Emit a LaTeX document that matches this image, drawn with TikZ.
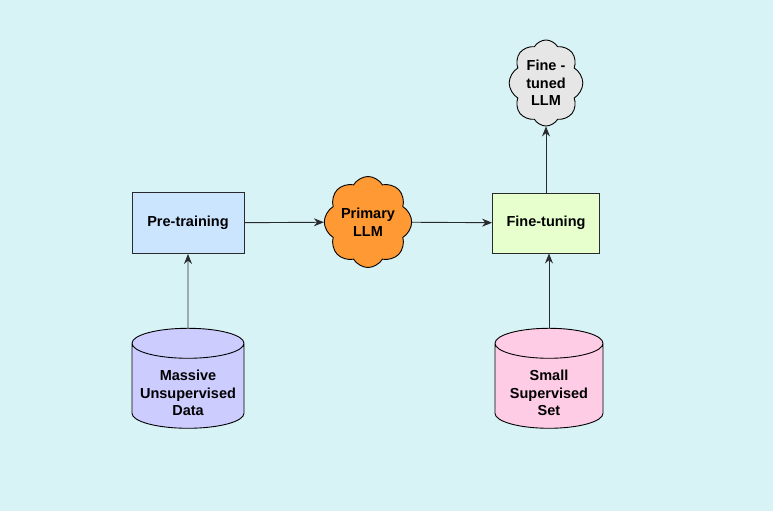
\documentclass[tikz,border=0pt]{standalone}
\usepackage{fontspec}
\setmainfont{Liberation Sans}
\usetikzlibrary{shapes.geometric,shapes.symbols,arrows.meta}
\definecolor{bgcyan}{RGB}{215,243,245}
\definecolor{pretrainblue}{RGB}{204,229,255}
\definecolor{tuninggreen}{RGB}{230,255,204}
\definecolor{llmorange}{RGB}{255,153,51}
\definecolor{tunedgray}{RGB}{230,230,230}
\definecolor{massivelilac}{RGB}{204,204,255}
\definecolor{smallpink}{RGB}{255,204,230}
\definecolor{edgegray}{RGB}{40,42,45}

\begin{document}
\begin{tikzpicture}[x=1pt, y=-1pt,
		labeltext/.style={font=\bfseries\fontsize{14.5}{17.5}\selectfont, align=center},
		stagebox/.style={labeltext, draw=edgegray, line width=0.9pt, minimum width=112pt, minimum height=61pt},
		llmcloud/.style={labeltext, draw=black, line width=0.9pt, cloud, cloud puffs=8, cloud puff arc=120, inner sep=0pt},
		datacyl/.style={text width=100pt, draw=black, line width=0.9pt, cylinder, shape border rotate=90, shape aspect=0.3, inner sep=0pt, minimum width=112pt, minimum height=100pt},
		cyltext/.style={label={[labeltext, yshift=-7pt]center:#1}},
		flow/.style={draw=edgegray, line width=0.9pt, -{Stealth[length=10pt, width=8pt]}}]
		%%%%% START %%%%%
		\fill[bgcyan] (0, 0) rectangle (773, 511);
		\useasboundingbox (0, 0) rectangle (773, 511);
		
		\node[stagebox, fill=pretrainblue] (pretrain) at (188, 223) {Pre-training};
		\node[stagebox, fill=tuninggreen, minimum width=107pt, minimum height=60pt] (finetune) at (546, 223) {Fine-tuning};
		
		\node[llmcloud, fill=llmorange, minimum width=80pt, minimum height=91pt] (primary) at (368, 222) {Primary\\LLM};
		\node[llmcloud, fill=tunedgray, minimum width=68pt, minimum height=86pt] (tuned) at (546, 83) {Fine -\\tuned\\LLM};
		
		\node[datacyl, fill=massivelilac, cyltext={Massive\\Unsupervised\\Data}] (massive) at (188, 386) {};
		\node[datacyl, fill=smallpink, minimum width=108pt, cyltext={Small\\Supervised\\Set}] (smallset) at (549, 386) {};
		
		\draw[flow] (massive) -- (pretrain);
		\draw[flow] (pretrain) -- (primary);
		\draw[flow] (primary) -- (finetune);
		\draw[flow] (smallset.north) -- (smallset.north |- finetune.south);
		\draw[flow] (finetune) -- (tuned);
		%%%%% END %%%%%
	\end{tikzpicture}
\end{document}
